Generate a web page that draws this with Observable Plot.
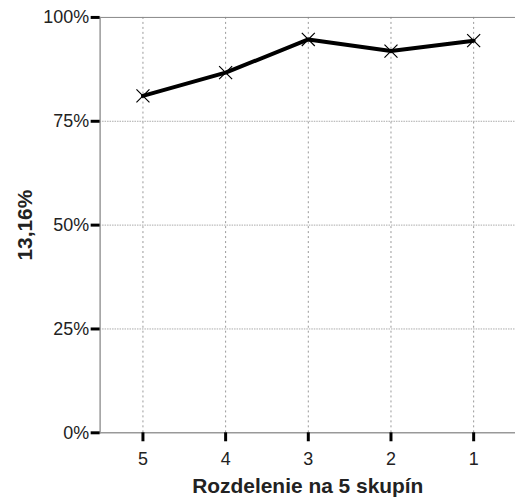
<!DOCTYPE html>
<html>
<head>
<meta charset="utf-8">
<script src="https://cdn.jsdelivr.net/npm/d3@7"></script>
<script src="https://cdn.jsdelivr.net/npm/@observablehq/plot@0.6"></script>
<style>
  html, body { margin: 0; padding: 0; background: #fff; overflow: hidden; }
  #chart svg { font-family: "Liberation Sans", Arial, sans-serif; display: block; }
</style>
</head>
<body>
<div id="chart"></div>
<script>
const categories = ["5", "4", "3", "2", "1"];
const values = [0.811, 0.867, 0.947, 0.919, 0.944];
const yTicks = [0, 0.25, 0.5, 0.75, 1];
const xLabel = "Rozdelenie na 5 skupín";
const yLabel = "13,16%";

const data = categories.map((c, i) => ({cat: c, value: values[i]}));

const chart = Plot.plot({
  width: 517,
  height: 502,
  marginTop: 17,
  marginBottom: 68,
  marginLeft: 100,
  marginRight: 0,
  style: {fontFamily: "Liberation Sans, Arial, sans-serif", fontSize: "18px", color: "#222"},
  x: {type: "point", domain: categories, padding: 0.5},
  y: {domain: [0, 1]},
  marks: [
    Plot.ruleX(categories, {x: d => d, stroke: "#999", strokeDasharray: "2,3", strokeWidth: 1}),
    Plot.ruleY(yTicks.filter(t => t > 0 && t < 1), {y: d => d, stroke: "#aaa", strokeDasharray: "1.5,1", strokeWidth: 1}),
    Plot.ruleY([1], {stroke: "#888", strokeWidth: 1}),
    Plot.ruleY([0], {stroke: "#999", strokeWidth: 1.5}),
    Plot.frame({anchor: "left", stroke: "#999", strokeWidth: 1.5}),
    Plot.axisY({ticks: yTicks, tickFormat: d => Math.round(d * 100) + "%", tickSize: 9, tickPadding: 2, stroke: "#000", strokeWidth: 3, label: null, fontSize: 18, fill: "#222"}),
    Plot.axisX({tickSize: 9, tickPadding: 11, stroke: "#000", strokeWidth: 3, label: null, fontSize: 18, fill: "#222"}),
    Plot.line(data, {x: "cat", y: "value", stroke: "#000", strokeWidth: 4}),
    Plot.dot(data, {x: "cat", y: "value", symbol: "times", r: 6, stroke: "#000", strokeWidth: 1.2}),
    Plot.text([yLabel], {frameAnchor: "left", dx: -75, rotate: -90, textAnchor: "middle", lineAnchor: "middle", fontWeight: "bold", fontSize: 21, fill: "#222"}),
    Plot.text([xLabel], {frameAnchor: "bottom", dy: 54, textAnchor: "middle", lineAnchor: "middle", fontWeight: "bold", fontSize: 21, fill: "#222"})
  ]
});
document.getElementById("chart").appendChild(chart);
</script>
</body>
</html>
